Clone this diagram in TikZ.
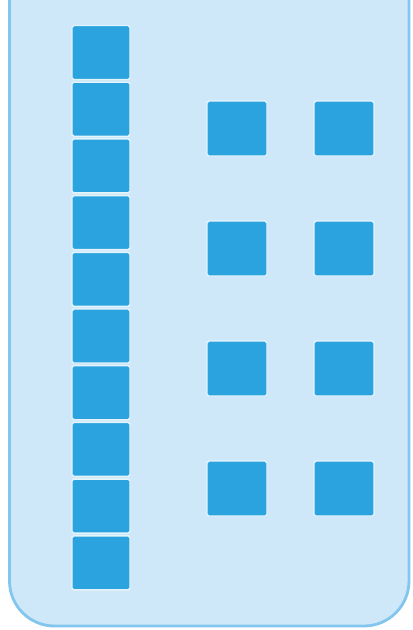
\documentclass[tikz,border=0pt]{standalone}
\usepackage{tikz}
\usetikzlibrary{positioning}
\usepackage{xcolor}
\definecolor{PanelFill}{RGB}{206,232,249}
\definecolor{PanelLine}{RGB}{130,198,238}
\definecolor{CellBlue}{RGB}{42,163,222}
\definecolor{HaloBlue}{RGB}{228,244,253}

\begin{document}
\begin{tikzpicture}[
    node distance=0.054cm,
    cell/.style={rectangle, rounded corners=1pt, draw=HaloBlue, line width=0.8pt, fill=CellBlue,
        minimum width=1.16cm, minimum height=1.08cm, inner sep=0pt, outer sep=0pt},
    tile/.style={rectangle, rounded corners=1pt, draw=HaloBlue, line width=0.8pt, fill=CellBlue,
        minimum width=1.2cm, minimum height=1.1cm, inner sep=0pt, outer sep=0pt},
]
\useasboundingbox (0,0) rectangle (8.26,-12.6);
\fill[white] (0,0) rectangle (8.26,-12.6);
\draw[PanelLine, fill=PanelFill, line width=1.6pt, rounded corners=0.9cm]
    (0.19,2) rectangle (8.18,-12.52);

% left column
\node[cell] at (2.02,-1.05) (c1) {};
\node[cell, below=of c1] (c2) {};
\node[cell, below=of c2] (c3) {};
\node[cell, below=of c3] (c4) {};
\node[cell, below=of c4] (c5) {};
\node[cell, below=of c5] (c6) {};
\node[cell, below=of c6] (c7) {};
\node[cell, below=of c7] (c8) {};
\node[cell, below=of c8] (c9) {};
\node[cell, below=of c9] (c10) {};

% right grid
\node[tile] at (4.74,-2.57) (a1) {};
\node[tile, right=0.94cm of a1] (b1) {};
\node[tile, below=1.3cm of a1] (a2) {};
\node[tile, right=0.94cm of a2] (b2) {};
\node[tile, below=1.3cm of a2] (a3) {};
\node[tile, right=0.94cm of a3] (b3) {};
\node[tile, below=1.3cm of a3] (a4) {};
\node[tile, right=0.94cm of a4] (b4) {};
\end{tikzpicture}
\end{document}
